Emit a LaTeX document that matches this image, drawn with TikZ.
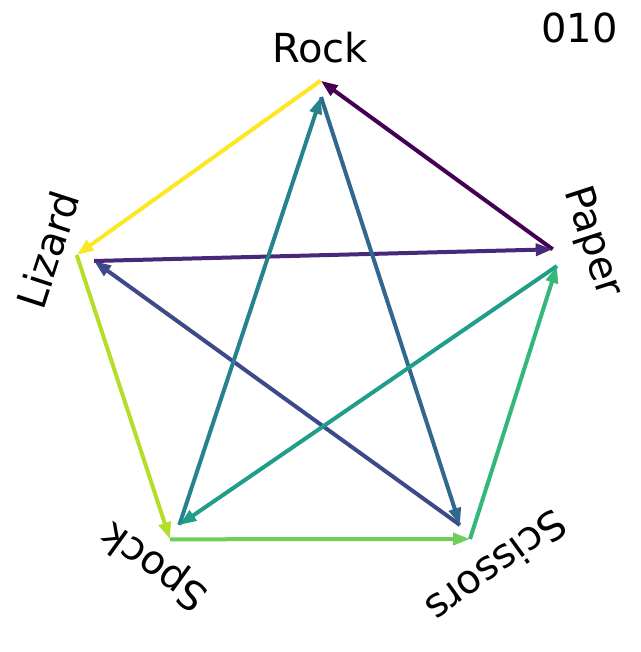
\documentclass[tikz,border=0pt]{standalone}
\usepackage{fontspec}
\setmainfont{DejaVu Sans}
\usetikzlibrary{arrows.meta}
\definecolor{v0}{HTML}{440154}
\definecolor{v1}{HTML}{482878}
\definecolor{v2}{HTML}{3E4989}
\definecolor{v3}{HTML}{31688E}
\definecolor{v4}{HTML}{26828E}
\definecolor{v5}{HTML}{1F9E89}
\definecolor{v6}{HTML}{35B779}
\definecolor{v7}{HTML}{6ECE58}
\definecolor{v8}{HTML}{B5DE2B}
\definecolor{v9}{HTML}{FDE725}
\tikzset{
  edge/.style={line width=4pt, -{Triangle[length=17pt,width=12pt]}},
  lbl/.style={inner sep=0pt, font=\fontsize{40}{48}\selectfont},
}
\begin{document}
\begin{tikzpicture}[x=1pt,y=-1pt]
\useasboundingbox (0,0) rectangle (640,652);
% outer vertices
\coordinate (Ro) at (320.7,80.7);
\coordinate (Po) at (552.7,249.3);
\coordinate (So) at (470,539);
\coordinate (Ko) at (170,539.3);
\coordinate (Lo) at (76.7,255);
% inner vertices
\coordinate (Ri) at (321,97);
\coordinate (Pi) at (557,266);
\coordinate (Si) at (460,525);
\coordinate (Ki) at (179.3,525);
\coordinate (Li) at (94,261);
% labels
\node[lbl] (rock) at (320,48) {Rock};
\node[lbl, rotate=-72] (paper) at (592,242) {Paper};
\node[lbl, rotate=-144] (scissors) at (497,567) {Scissors};
\node[lbl, rotate=144] (spock) at (155,565) {Spock};
\node[lbl, rotate=72] (lizard) at (48,250) {Lizard};
\node[lbl, anchor=east] (code) at (618,28) {010};
% edges
\draw[edge, v0] (Po) -- (Ro);
\draw[edge, v1] (Li) -- (Po);
\draw[edge, v2] (Si) -- (Li);
\draw[edge, v3] (Ri) -- (Si);
\draw[edge, v4] (Ki) -- (Ri);
\draw[edge, v5] (Pi) -- (Ki);
\draw[edge, v6] (So) -- (Pi);
\draw[edge, v7] (Ko) -- (So);
\draw[edge, v8] (Lo) -- (Ko);
\draw[edge, v9] (Ro) -- (Lo);
\end{tikzpicture}
\end{document}
